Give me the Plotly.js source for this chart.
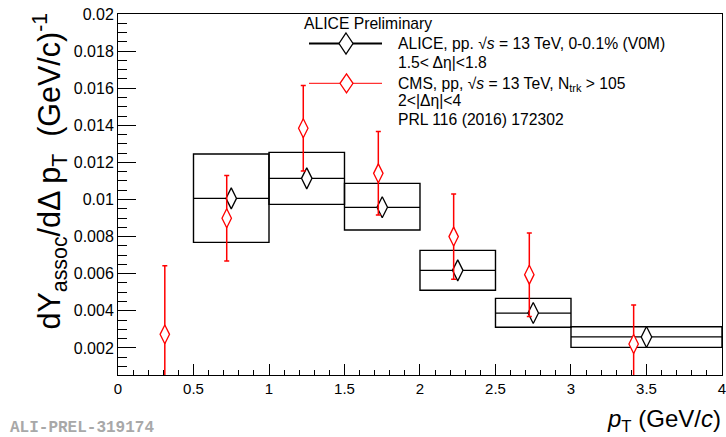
<!DOCTYPE html>
<html>
<head>
<meta charset="utf-8">
<script src="https://cdn.plot.ly/plotly-3.0.1.min.js"></script>
<style>
  html, body { margin: 0; padding: 0; background: #fff; }
  #chart { width: 726px; height: 437px; }
</style>
</head>
<body>
<div id="chart"></div>
<script>
// ---- data ----
// ALICE (pT bins, yields, systematic band)
const aliceX        = [0.75, 1.25, 1.75, 2.25, 2.75, 3.5];
const aliceHalfBin  = [0.25, 0.25, 0.25, 0.25, 0.25, 0.5];
const aliceY        = [0.01006, 0.01114, 0.00958, 0.00618, 0.00388, 0.00259];
const aliceSysLow   = [0.00769, 0.00974, 0.00836, 0.00511, 0.00311, 0.00203];
const aliceSysHigh  = [0.01245, 0.01254, 0.01087, 0.00726, 0.00467, 0.00314];

// CMS (PRL 116 (2016) 172302)
const cmsX   = [0.31, 0.72, 1.227, 1.724, 2.223, 2.724, 3.415];
const cmsY   = [0.00273, 0.00899, 0.01384, 0.01141, 0.0080, 0.00595, 0.00221];
const cmsErr = [0.0037, 0.0023, 0.0023, 0.00225, 0.0023, 0.00225, 0.0021];

// axis tick labels
const xTickVals = [0, 0.5, 1, 1.5, 2, 2.5, 3, 3.5, 4];
const xTickText = ['0', '0.5', '1', '1.5', '2', '2.5', '3', '3.5', '4'];

// ---- geometry helpers (pixel -> paper) ----
const L = 118, R = 4, T = 14, B = 62, W = 726, H = 437;
const PW = W - L - R, PH = H - T - B;
const px = p => (p - L) / PW;
const py = p => (H - B - p) / PH;

const FONT = 'Liberation Sans, Arial, Helvetica, sans-serif';

const sysBoxes = {
  type: 'bar',
  x: aliceX,
  base: aliceSysLow,
  y: aliceSysHigh.map((h, i) => h - aliceSysLow[i]),
  width: aliceHalfBin.map(w => 2 * w),
  marker: { color: 'rgba(0,0,0,0)', line: { color: '#000', width: 1.4 } },
  hoverinfo: 'skip',
  showlegend: false
};

const alice = {
  type: 'scatter',
  mode: 'markers',
  x: aliceX,
  y: aliceY,
  error_x: { type: 'data', array: aliceHalfBin, visible: true, color: '#000', thickness: 1.3, width: 0 },
  marker: { symbol: 'diamond-tall', size: 15, color: '#fff', line: { color: '#000', width: 1.3 } },
  showlegend: false,
  cliponaxis: true
};

const cms = {
  type: 'scatter',
  mode: 'markers',
  x: cmsX,
  y: cmsY,
  error_y: { type: 'data', array: cmsErr, visible: true, color: '#ff0000', thickness: 1.5, width: 2.5 },
  marker: { symbol: 'diamond-tall', size: 13.5, color: '#fff', line: { color: '#ff0000', width: 1.3 } },
  showlegend: false,
  cliponaxis: true
};

function diamondShape(cxPx, cyPx, hw, hh, color, lw) {
  return {
    type: 'path', xref: 'paper', yref: 'paper',
    xsizemode: 'pixel', ysizemode: 'pixel',
    xanchor: px(cxPx), yanchor: py(cyPx),
    path: `M0,${hh} L${hw},0 L0,${-hh} L${-hw},0 Z`,
    line: { color: color, width: lw }, fillcolor: '#fff', layer: 'above'
  };
}

const shapes = [
  { type: 'line', xref: 'paper', yref: 'paper', x0: px(309), x1: px(382), y0: py(43.5), y1: py(43.5),
    line: { color: '#000', width: 2 }, layer: 'above' },
  diamondShape(346, 43.5, 7, 10.5, '#000', 1.3),
  { type: 'line', xref: 'paper', yref: 'paper', x0: px(309), x1: px(382), y0: py(83.3), y1: py(83.3),
    line: { color: '#ff0000', width: 1 }, layer: 'above' },
  diamondShape(346.5, 83.3, 6.5, 9.5, '#ff0000', 1.3)
];

const LEG = 15.7;
function txt(text, xPx, yPx, opts) {
  return Object.assign({
    text: text, xref: 'paper', yref: 'paper', x: px(xPx), y: py(yPx),
    xanchor: 'left', yanchor: 'middle', showarrow: false,
    font: { family: FONT, size: LEG, color: '#000' }
  }, opts || {});
}

const annotations = [
  txt('ALICE Preliminary', 302, 24),
  txt('ALICE, pp. √<i>s</i> = 13 TeV, 0-0.1% (V0M)', 396, 43.3),
  txt('1.5< Δη|<1.8', 396, 62.3),
  txt('CMS, pp, √<i>s</i> = 13 TeV, N<sub>trk</sub> > 105', 396, 84),
  txt('2<|Δη|<4', 396, 100.7),
  txt('PRL 116 (2016) 172302', 396, 120),
  txt('dY<sub>assoc</sub>/dΔ p<sub>T</sub>\u00a0\u00a0(GeV/c)<sup>-1</sup>', 50, 11,
      { textangle: -90, xanchor: 'center', yanchor: 'top', font: { family: FONT, size: 30.5, color: '#000' } }),
  txt('<i>p</i><sub>T</sub> (GeV/<i>c</i>)', 723, 420.5,
      { xanchor: 'right', yanchor: 'middle', font: { family: FONT, size: 24, color: '#000' } }),
  txt('ALI-PREL-319174', 8, 428,
      { font: { family: 'Liberation Mono, Courier New, monospace', size: 16, color: '#a8a8a8', weight: 'bold' } })
];

const layout = {
  width: W, height: H,
  margin: { l: L, r: R, t: T, b: B, pad: 0 },
  paper_bgcolor: '#fff', plot_bgcolor: '#fff',
  font: { family: FONT, size: 15, color: '#000' },
  showlegend: false,
  barmode: 'overlay',
  xaxis: {
    range: [0, 4.0001],
    tickmode: 'array', tickvals: xTickVals, ticktext: xTickText,
    ticklabeloverflow: 'allow',
    ticks: 'inside', ticklen: 11, tickwidth: 1, tickcolor: '#000',
    minor: { dtick: 0.1, tick0: 0, ticks: 'inside', ticklen: 5.5, tickwidth: 1, tickcolor: '#000' },
    showline: true, linecolor: '#000', linewidth: 1, mirror: true,
    showgrid: false, zeroline: false,
    tickfont: { family: FONT, size: 15, color: '#000' }
  },
  yaxis: {
    range: [0.00054, 0.02], tick0: 0, dtick: 0.002,
    ticklabeloverflow: 'allow',
    ticks: 'inside', ticklen: 18, tickwidth: 1, tickcolor: '#000',
    minor: { dtick: 0.0005, ticks: 'inside', ticklen: 9, tickwidth: 1, tickcolor: '#000' },
    showline: true, linecolor: '#000', linewidth: 1, mirror: true,
    showgrid: false, zeroline: false,
    tickfont: { family: FONT, size: 16, color: '#000' }
  },
  shapes: shapes,
  annotations: annotations
};

Plotly.newPlot('chart', [sysBoxes, alice, cms], layout, { staticPlot: true, displayModeBar: false });
</script>
</body>
</html>
